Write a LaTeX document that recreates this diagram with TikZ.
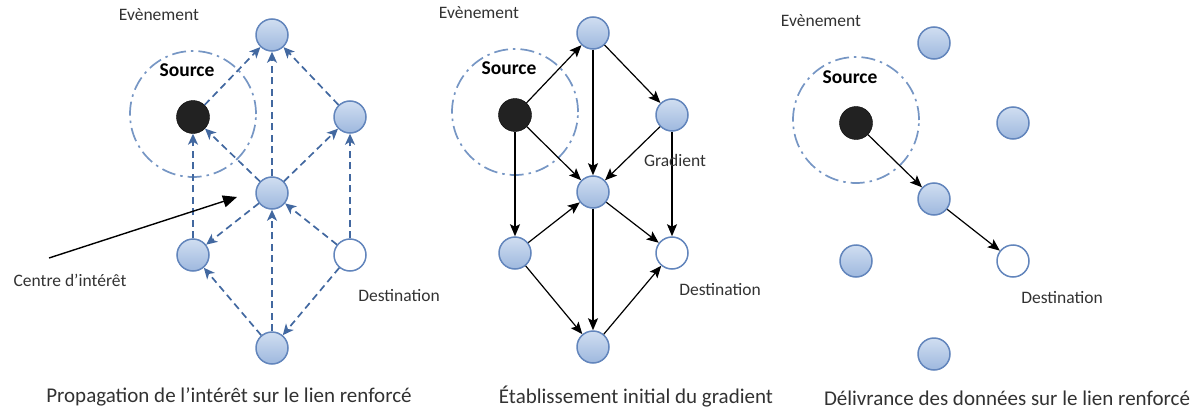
\documentclass[tikz,border=0pt]{standalone}
\usepackage{fontspec}
\setmainfont{Carlito}
\usetikzlibrary{arrows.meta}
\definecolor{nodeedge}{RGB}{98,133,188}
\definecolor{nodetop}{RGB}{208,222,241}
\definecolor{nodebot}{RGB}{158,184,222}
\definecolor{dashblue}{RGB}{66,104,160}
\definecolor{ringblue}{RGB}{118,150,196}
\definecolor{srcblack}{RGB}{34,34,34}
\definecolor{labelgray}{RGB}{50,50,50}
\tikzset{
  sensor/.style={circle, minimum size=32pt, inner sep=0pt, draw=nodeedge, line width=1.5pt,
    top color=nodetop, bottom color=nodebot},
  srcnode/.style={circle, minimum size=33pt, inner sep=0pt, draw=black, fill=srcblack},
  dstnode/.style={circle, minimum size=32pt, inner sep=0pt, draw=nodeedge, line width=1.5pt, fill=white},
  ring/.style={circle, minimum size=126pt, inner sep=0pt, draw=ringblue, line width=1.7pt,
    dash pattern=on 14pt off 5pt on 2.5pt off 5pt},
  interest/.style={draw=dashblue, line width=1.7pt, dash pattern=on 7pt off 4.5pt,
    -{Stealth[length=11pt,width=10pt,inset=3pt,fill=dashblue]}},
  gradient/.style={draw=black, line width=1.2pt,
    -{Stealth[length=12pt,width=10pt,inset=2.5pt]}},
  lbl/.style={font=\fontsize{17.5}{20}\selectfont, text=labelgray, inner sep=0pt},
  srclbl/.style={font=\fontsize{19.5}{22}\selectfont\bfseries, text=black, inner sep=0pt},
  caption/.style={font=\fontsize{21}{24}\selectfont, text=labelgray, inner sep=0pt},
}
\begin{document}
\begin{tikzpicture}[x=1pt,y=-1pt]
\useasboundingbox (0,0) rectangle (1198,412);

% ---------- interest propagation ----------
\node[ring] (ring1) at (193,114) {};
\node[srcnode] (S1) at (193,117) {};
\node[sensor] (T1) at (272,35) {};
\node[sensor] (R1) at (350,117) {};
\node[sensor] (C1) at (272,193) {};
\node[sensor] (L1) at (193,255) {};
\node[dstnode] (D1) at (350,255) {};
\node[sensor] (B1) at (272,348) {};

\draw[interest] (S1) -- (T1);
\draw[interest] (R1) -- (T1);
\draw[interest] (C1) -- (T1);
\draw[interest] (C1) -- (S1);
\draw[interest] (L1) -- (S1);
\draw[interest] (C1) -- (R1);
\draw[interest] (D1) -- (R1);
\draw[interest] (C1) -- (L1);
\draw[interest] (D1) -- (C1);
\draw[interest] (B1) -- (C1);
\draw[interest] (B1) -- (L1);
\draw[interest] (D1) -- (B1);

\node[lbl] (ev1) at (159,15) {Evènement};
\node[srclbl] (src1) at (187,70) {Source};
\node[lbl] (ci1) at (70,280) {Centre d’intérêt};
\node[lbl] (dst1) at (399,296) {Destination};
\coordinate (citail) at (49,258);
\coordinate (cihead) at (237,197);
\draw[line width=1.4pt, -{Triangle[length=14pt,width=12pt]}] (citail) -- (cihead);
\node[caption] (cap1) at (229,397) {Propagation de l’intérêt sur le lien renforcé};

% ---------- initial gradient setup ----------
\node[ring] (ring2) at (515,112) {};
\node[srcnode] (S2) at (515,115) {};
\node[sensor] (T2) at (593,33) {};
\node[sensor] (R2) at (672,115) {};
\node[sensor] (C2) at (593,192) {};
\node[sensor] (L2) at (515,253) {};
\node[dstnode] (D2) at (672,253) {};
\node[sensor] (B2) at (593,347) {};

\draw[gradient] (S2) -- (T2);
\draw[gradient] (S2) -- (C2);
\draw[gradient] (S2) -- (L2);
\draw[gradient] (T2) -- (C2);
\draw[gradient] (T2) -- (R2);
\draw[gradient] (R2) -- (C2);
\draw[gradient] (R2) -- (D2);
\draw[gradient] (L2) -- (C2);
\draw[gradient] (L2) -- (B2);
\draw[gradient] (C2) -- (D2);
\draw[gradient] (C2) -- (B2);
\draw[gradient] (B2) -- (D2);

\node[lbl] (ev2) at (479,13) {Evènement};
\node[srclbl] (src2) at (509,68) {Source};
\node[lbl] (gr2) at (675,160) {Gradient};
\node[lbl] (dst2) at (720,290) {Destination};
\node[caption] (cap2) at (636,397) {Établissement initial du gradient};

% ---------- data delivery ----------
\node[ring] (ring3) at (856,120) {};
\node[srcnode] (S3) at (856,123) {};
\node[sensor] (T3) at (934,43) {};
\node[sensor] (R3) at (1013,123) {};
\node[sensor] (C3) at (934,199) {};
\node[sensor] (L3) at (856,261) {};
\node[dstnode] (D3) at (1013,261) {};
\node[sensor] (B3) at (934,354) {};

\draw[gradient] (S3) -- (C3);
\draw[gradient] (C3) -- (D3);

\node[lbl] (ev3) at (821,21) {Evènement};
\node[srclbl] (src3) at (850,77) {Source};
\node[lbl] (dst3) at (1062,298) {Destination};
\node[caption] (cap3) at (1007,398) {Délivrance des données sur le lien renforcé};
\end{tikzpicture}
\end{document}
